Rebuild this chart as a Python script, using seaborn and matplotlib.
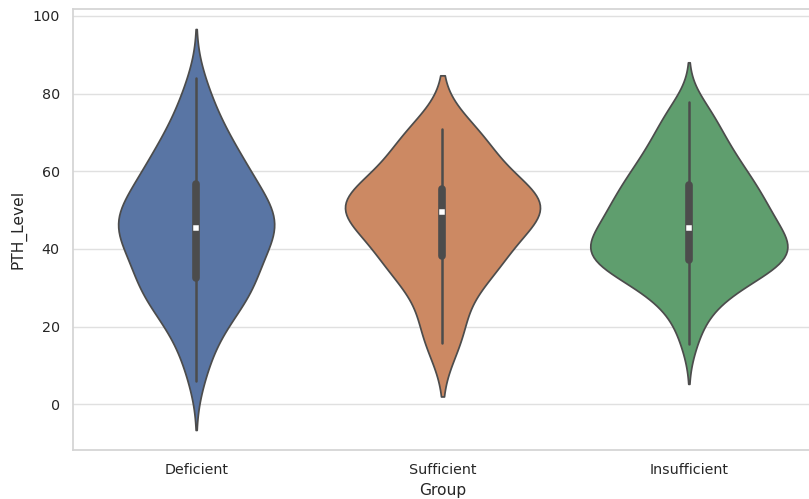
import matplotlib
matplotlib.use("Agg")
import matplotlib.pyplot as plt
import pandas as pd
import seaborn as sns

# PTH measurements per vitamin D status group
groups = ["Deficient", "Sufficient", "Insufficient"]

deficient = [
    6.0, 10.9, 14.1, 17.0, 19.0, 20.9, 22.3, 23.6, 24.7, 25.9,
    27.0, 27.9, 28.7, 29.6, 30.3, 31.0, 31.7, 32.4, 33.35, 34.28,
    35.18, 36.06, 36.91, 37.74, 38.54, 39.32, 40.07, 40.8, 41.5, 42.18,
    42.83, 43.46, 44.06, 44.64, 45.19, 45.7, 46.2, 46.72, 47.26, 47.82,
    48.4, 49.0, 49.62, 50.26, 50.92, 51.6, 52.3, 53.02, 53.76, 54.52,
    55.3, 56.1, 56.92, 57.9, 58.7, 59.6, 60.5, 61.5, 62.5, 63.5,
    64.7, 66.0, 67.2, 68.6, 70.1, 72.0, 74.0, 76.6, 79.5, 84.0,
]

sufficient = [
    15.7, 23.0, 31.5, 34.5, 36.8, 38.5, 42.5, 45.6, 47.6, 48.8,
    50.4, 51.5, 52.5, 53.6, 54.6, 57.5, 61.5, 65.0, 68.5, 71.0,
]

insufficient = [
    15.5, 20.5, 23.5, 25.8, 27.6, 29.0, 29.75, 30.86, 31.83, 32.68,
    33.43, 34.1, 34.7, 35.24, 35.73, 36.18, 36.6, 37.0, 37.4, 37.81,
    38.23, 38.66, 39.1, 39.55, 40.01, 40.48, 40.96, 41.45, 41.95, 42.46,
    42.98, 43.51, 44.05, 44.6, 45.16, 45.7, 46.3, 46.9, 47.5, 48.1,
    48.7, 49.3, 50.0, 50.6, 51.2, 51.9, 52.5, 53.2, 53.9, 54.6,
    55.3, 56.0, 56.7, 57.5, 58.3, 59.1, 60.0, 60.9, 61.8, 62.8,
    63.9, 65.0, 66.2, 67.4, 68.8, 70.3, 72.0, 73.8, 75.8, 77.8,
]

df = pd.DataFrame({
    "Group": (["Deficient"] * len(deficient)
              + ["Sufficient"] * len(sufficient)
              + ["Insufficient"] * len(insufficient)),
    "PTH_Level": deficient + sufficient + insufficient,
})

sns.set_theme(style="whitegrid", font_scale=0.93,
              rc={"grid.color": "#e0e0e0", "axes.edgecolor": "#d4d4d4"})
plt.rcParams["font.family"] = ["DejaVu Sans"]

fig = plt.figure(figsize=(8.09, 4.99), dpi=100)
ax = fig.add_axes([73 / 809, 49 / 499, 739 / 809, 441 / 499])

# one shared density scale so every violin encloses the same area
sns.violinplot(
    data=df, x="Group", y="PTH_Level", order=groups,
    hue="Group", hue_order=groups, palette="deep", legend=False,
    inner="box", bw_adjust=0.86, density_norm="area", common_norm=True,
    inner_kws=dict(box_width=5.5, whis_width=1.8, marker="s",
                   markersize=3.2),
    ax=ax,
)
ax.set_xlabel("Group")
ax.set_ylabel("PTH_Level")

fig.savefig("out.png", dpi=100)
